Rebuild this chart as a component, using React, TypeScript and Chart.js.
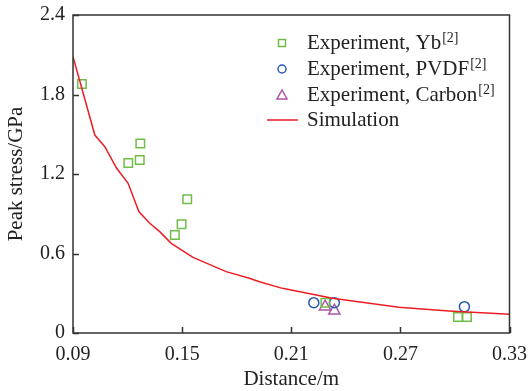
import React, { useEffect, useRef } from "react";
import { Chart, registerables } from "chart.js";

Chart.register(...registerables);

const X_TICKS = [0.09, 0.15, 0.21, 0.27, 0.33];
const X_TICK_LABELS = ["0.09", "0.15", "0.21", "0.27", "0.33"];
const Y_TICKS = [0, 0.6, 1.2, 1.8, 2.4];
const Y_TICK_LABELS = ["0", "0.6", "1.2", "1.8", "2.4"];

const YB_X = [0.0949, 0.1204, 0.1267, 0.127, 0.146, 0.1497, 0.1528, 0.2288, 0.3017, 0.3066];
const YB_Y = [1.88, 1.283, 1.306, 1.43, 0.74, 0.82, 1.01, 0.229, 0.121, 0.121];

const PVDF_X = [0.2224, 0.2337, 0.3052];
const PVDF_Y = [0.229, 0.229, 0.199];

const CARBON_X = [0.2286, 0.2337];
const CARBON_Y = [0.199, 0.168];

const SIM_X = [0.09, 0.102, 0.1075, 0.114, 0.1203, 0.1262, 0.1322, 0.1377, 0.144, 0.156, 0.1742, 0.187, 0.1925, 0.2052, 0.2326, 0.2692, 0.2966, 0.33];
const SIM_Y = [2.085, 1.494, 1.406, 1.243, 1.13, 0.916, 0.828, 0.765, 0.677, 0.571, 0.463, 0.413, 0.387, 0.337, 0.262, 0.194, 0.166, 0.141];

const LEGEND_NAMES = ["Experiment, Yb", "Experiment, PVDF", "Experiment, Carbon", "Simulation"];
const LEGEND_SUPS = ["[2]", "[2]", "[2]", ""];

const GREEN = "rgb(112,188,72)";
const BLUE = "rgb(40,90,180)";
const PURPLE = "rgb(170,85,170)";
const RED = "rgb(236,30,36)";
const INK = "#222";
const FONT = "Liberation Serif";

function zip(xs: number[], ys: number[]) {
  return xs.map((x, i) => ({ x, y: ys[i] }));
}

const framePlugin = {
  id: "frameTicks",
  afterDraw(chart: any) {
    const { ctx, chartArea } = chart;
    const xs = chart.scales.x;
    const ys = chart.scales.y;
    ctx.save();
    ctx.strokeStyle = "#333";
    ctx.lineWidth = 1.5;
    ctx.strokeRect(chartArea.left, chartArea.top, chartArea.right - chartArea.left, chartArea.bottom - chartArea.top);
    ctx.beginPath();
    X_TICKS.forEach((v) => {
      const px = Math.round(xs.getPixelForValue(v)) + 0.5;
      ctx.moveTo(px, chartArea.bottom);
      ctx.lineTo(px, chartArea.bottom - 6);
    });
    Y_TICKS.forEach((v) => {
      const py = Math.round(ys.getPixelForValue(v)) + 0.5;
      ctx.moveTo(chartArea.left, py);
      ctx.lineTo(chartArea.left + 6, py);
    });
    ctx.stroke();

    // legend
    const mx = 282;
    const tx = 307;
    const rows = [43, 69, 95, 120];
    ctx.textBaseline = "middle";
    ctx.textAlign = "left";
    rows.forEach((ry, i) => {
      ctx.lineWidth = 1.5;
      if (i === 0) {
        ctx.strokeStyle = GREEN;
        ctx.strokeRect(mx - 3.5, ry - 3.5, 7, 7);
      } else if (i === 1) {
        ctx.strokeStyle = BLUE;
        ctx.beginPath();
        ctx.arc(mx, ry, 4, 0, Math.PI * 2);
        ctx.stroke();
      } else if (i === 2) {
        ctx.strokeStyle = PURPLE;
        ctx.beginPath();
        ctx.moveTo(mx, ry - 5);
        ctx.lineTo(mx + 5, ry + 4);
        ctx.lineTo(mx - 5, ry + 4);
        ctx.closePath();
        ctx.stroke();
      } else {
        ctx.strokeStyle = RED;
        ctx.beginPath();
        ctx.moveTo(267, ry);
        ctx.lineTo(298, ry);
        ctx.stroke();
      }
      ctx.fillStyle = INK;
      ctx.font = `21px "${FONT}"`;
      ctx.fillText(LEGEND_NAMES[i], tx, ry);
      if (LEGEND_SUPS[i]) {
        const w = ctx.measureText(LEGEND_NAMES[i]).width;
        ctx.font = `14px "${FONT}"`;
        ctx.fillText(LEGEND_SUPS[i], tx + w + 1, ry - 5);
      }
    });
    ctx.restore();
  },
};

export default function App() {
  const ref = useRef<HTMLCanvasElement | null>(null);
  useEffect(() => {
    if (!ref.current) return;
    const chart = new Chart(ref.current, {
      type: "scatter",
      data: {
        datasets: [
          {
            label: "Simulation",
            data: zip(SIM_X, SIM_Y),
            showLine: true,
            borderColor: RED,
            borderWidth: 1.5,
            pointRadius: 0,
            tension: 0,
            fill: false,
          } as any,
          {
            label: "Experiment, Yb",
            data: zip(YB_X, YB_Y),
            pointStyle: "rect",
            pointRadius: 6,
            borderColor: GREEN,
            backgroundColor: "transparent",
            pointBorderWidth: 1.5,
          },
          {
            label: "Experiment, PVDF",
            data: zip(PVDF_X, PVDF_Y),
            pointStyle: "circle",
            pointRadius: 5,
            borderColor: BLUE,
            backgroundColor: "transparent",
            pointBorderWidth: 1.5,
          },
          {
            label: "Experiment, Carbon",
            data: zip(CARBON_X, CARBON_Y),
            pointStyle: "triangle",
            pointRadius: 6.5,
            borderColor: PURPLE,
            backgroundColor: "transparent",
            pointBorderWidth: 1.5,
          },
        ],
      },
      options: {
        responsive: false,
        animation: false,
        layout: { padding: { top: 15, right: 18, left: 0, bottom: 0 } },
        plugins: { legend: { display: false }, tooltip: { enabled: false } },
        scales: {
          x: {
            type: "linear",
            min: 0.09,
            max: 0.33,
            grid: { display: false },
            border: { display: false },
            afterBuildTicks: (s: any) => {
              s.ticks = X_TICKS.map((v) => ({ value: v }));
            },
            afterFit: (s: any) => {
              s.height = 58;
            },
            ticks: {
              padding: 2,
              color: INK,
              font: { family: FONT, size: 20 },
              maxRotation: 0,
              callback: (_v: any, i: number) => X_TICK_LABELS[i],
            },
            title: {
              display: true,
              text: "Distance/m",
              color: INK,
              font: { family: FONT, size: 21 },
              padding: { top: 0, bottom: -1 },
            },
          },
          y: {
            type: "linear",
            min: 0,
            max: 2.4,
            grid: { display: false },
            border: { display: false },
            afterBuildTicks: (s: any) => {
              s.ticks = Y_TICKS.map((v) => ({ value: v }));
            },
            afterFit: (s: any) => {
              s.width = 73;
            },
            ticks: {
              padding: 0,
              color: INK,
              font: { family: FONT, size: 20 },
              callback: (_v: any, i: number) => Y_TICK_LABELS[i],
            },
            title: {
              display: true,
              text: "Peak stress/GPa",
              color: INK,
              font: { family: FONT, size: 21 },
              padding: { top: 4, bottom: 0 },
            },
          },
        },
      },
      plugins: [framePlugin],
    });
    return () => chart.destroy();
  }, []);
  return (
    <div style={{ position: "absolute", left: 0, top: 0, width: 529, height: 391, background: "#fff" }}>
      <canvas ref={ref} width={529} height={391} />
    </div>
  );
}
